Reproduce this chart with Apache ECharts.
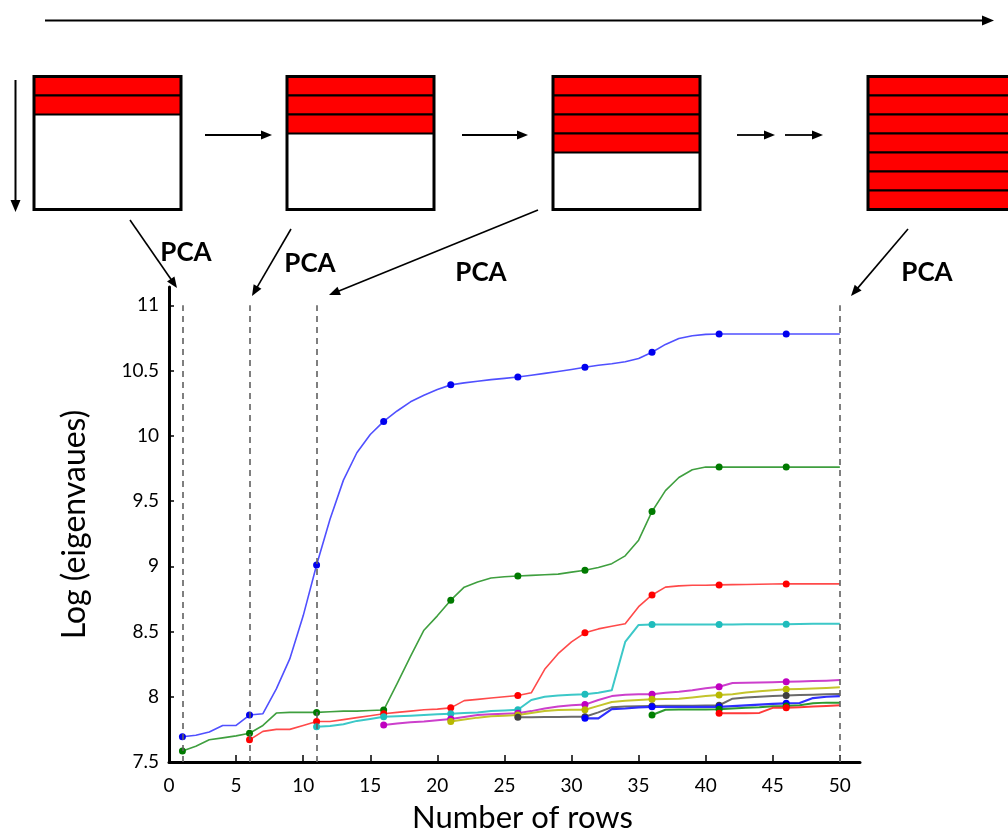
<!DOCTYPE html>
<html>
<head>
<meta charset="utf-8">
<script src="https://cdn.jsdelivr.net/npm/echarts@6/dist/echarts.min.js"></script>
<style>html,body{margin:0;padding:0;background:#fff}#c{width:1008px;height:833px}</style>
</head>
<body>
<div id="c"></div>
<script>
// ---------- data ----------
const xTicks = [0, 5, 10, 15, 20, 25, 30, 35, 40, 45, 50];
const yTicks = [7.5, 8, 8.5, 9, 9.5, 10, 10.5, 11];
const markerRows = [1, 6, 11, 16, 21, 26, 31, 36, 41, 46];
const pcaRows = [1, 6, 11, 50];
const stripeCounts = [2, 3, 4, 7];

const blueStart = 1;
const blueVals = [7.694, 7.705, 7.73, 7.78, 7.78, 7.86, 7.87, 8.06, 8.29, 8.62,
  9.01, 9.36, 9.66, 9.87, 10.01, 10.11, 10.19, 10.26, 10.31, 10.355,
  10.39, 10.405, 10.418, 10.43, 10.44, 10.45, 10.464, 10.478, 10.493, 10.508,
  10.525, 10.54, 10.552, 10.567, 10.592, 10.64, 10.7, 10.745, 10.767, 10.777,
  10.78, 10.78, 10.78, 10.78, 10.78, 10.78, 10.78, 10.78, 10.78, 10.78];
const greenStart = 1;
const greenVals = [7.585, 7.62, 7.67, 7.685, 7.70, 7.72, 7.78, 7.875, 7.88, 7.88,
  7.88, 7.885, 7.89, 7.89, 7.895, 7.898, 8.1, 8.31, 8.51, 8.62,
  8.74, 8.84, 8.88, 8.91, 8.92, 8.925, 8.93, 8.935, 8.94, 8.955,
  8.97, 8.99, 9.02, 9.08, 9.2, 9.42, 9.58, 9.68, 9.74, 9.76,
  9.76, 9.76, 9.76, 9.76, 9.76, 9.76, 9.76, 9.76, 9.76, 9.76];
const redStart = 6;
const redVals = [7.67, 7.735, 7.75, 7.75, 7.78,
  7.81, 7.81, 7.825, 7.84, 7.855, 7.87, 7.88, 7.89, 7.9, 7.905,
  7.915, 7.97, 7.98, 7.99, 8.0, 8.01, 8.03, 8.21, 8.33, 8.42,
  8.49, 8.52, 8.54, 8.56, 8.69, 8.78, 8.84, 8.85, 8.855, 8.855,
  8.857, 8.859, 8.86, 8.862, 8.864, 8.865, 8.865, 8.865, 8.865, 8.865];
const cyanStart = 11;
const cyanVals = [7.77, 7.775, 7.79, 7.815, 7.83, 7.847, 7.85, 7.855, 7.86, 7.865,
  7.87, 7.875, 7.88, 7.89, 7.895, 7.90, 7.975, 8.0, 8.01, 8.015,
  8.02, 8.03, 8.05, 8.42, 8.55, 8.554, 8.554, 8.554, 8.554, 8.554,
  8.554, 8.554, 8.555, 8.556, 8.556, 8.556, 8.558, 8.56, 8.56, 8.56];
const magentaStart = 16;
const magentaVals = [7.783, 7.795, 7.805, 7.81, 7.82,
  7.83, 7.845, 7.86, 7.865, 7.87, 7.873, 7.89, 7.91, 7.925, 7.935,
  7.94, 7.975, 8.005, 8.015, 8.02, 8.02, 8.03, 8.038, 8.05, 8.065,
  8.076, 8.105, 8.108, 8.11, 8.112, 8.115, 8.117, 8.12, 8.123, 8.128];
const yellowStart = 21;
const yellowVals = [7.81, 7.825, 7.84, 7.85, 7.855, 7.86, 7.875, 7.89, 7.898, 7.9,
  7.90, 7.93, 7.96, 7.97, 7.975, 7.98, 7.983, 7.985, 7.995, 8.005,
  8.013, 8.02, 8.032, 8.042, 8.05, 8.057, 8.06, 8.064, 8.068, 8.072];
const grayStart = 26;
const grayVals = [7.842, 7.843, 7.844, 7.845, 7.846,
  7.847, 7.88, 7.92, 7.925, 7.928, 7.93, 7.932, 7.932, 7.932, 7.933,
  7.935, 7.985, 7.995, 8.0, 8.005, 8.01, 8.013, 8.016, 8.02, 8.022];
const navyStart = 31;
const navyVals = [7.835, 7.835, 7.905, 7.91, 7.918, 7.923, 7.923, 7.923, 7.923, 7.923,
  7.923, 7.928, 7.934, 7.94, 7.945, 7.95, 7.952, 7.99, 8.0, 8.005];
const green2Start = 36;
const green2Vals = [7.86, 7.90, 7.902, 7.903, 7.903,
  7.905, 7.91, 7.915, 7.92, 7.928, 7.93, 7.935, 7.95, 7.955, 7.955];
const red2Start = 41;
const red2Vals = [7.873, 7.873, 7.874, 7.876, 7.915, 7.915, 7.92, 7.925, 7.93, 7.935];

// ---------- build ----------
function pts(start, vals) { return vals.map((v, i) => [start + i, v]); }
const seriesDefs = [
  { d: pts(blueStart, blueVals), line: '#5050ff', mk: '#0000ee', w: 1.6 },
  { d: pts(greenStart, greenVals), line: '#3f9f3f', mk: '#007a00', w: 1.6 },
  { d: pts(redStart, redVals), line: '#ff4a4a', mk: '#ff0000', w: 1.6 },
  { d: pts(cyanStart, cyanVals), line: '#3cc8c8', mk: '#1fbcbc', w: 2 },
  { d: pts(magentaStart, magentaVals), line: '#cc3fcc', mk: '#c000c0', w: 2 },
  { d: pts(yellowStart, yellowVals), line: '#c4c42c', mk: '#b8b800', w: 2 },
  { d: pts(grayStart, grayVals), line: '#6a6a6a', mk: '#404040', w: 2 },
  { d: pts(navyStart, navyVals), line: '#2f2fff', mk: '#0000ff', w: 2.2 },
  { d: pts(green2Start, green2Vals), line: '#2f9a2f', mk: '#008000', w: 2 },
  { d: pts(red2Start, red2Vals), line: '#ff3a3a', mk: '#ff0000', w: 2 }
];

const series = seriesDefs.map(s => ({
  type: 'line',
  data: s.d,
  smooth: false,
  showSymbol: true,
  showAllSymbol: true,
  symbol: 'circle',
  symbolSize: v => markerRows.includes(v[0]) ? 7 : 0,
  itemStyle: { color: s.mk, borderWidth: 0 },
  lineStyle: { color: s.line, width: s.w, join: 'round' },
  z: 3,
  silent: true
}));
series.push({
  type: 'line', data: [], silent: true,
  markLine: {
    silent: true, symbol: ['none', 'none'], label: { show: false }, animation: false,
    lineStyle: { color: '#606060', type: [6, 5], width: 1.6 },
    data: pcaRows.map(x => [{ coord: [x, 7.5] }, { coord: [x, 11] }])
  }
});

// ---------- top diagram ----------
const els = [];
function arrow(x1, y1, x2, y2, lw, hl, hw) {
  const dx = x2 - x1, dy = y2 - y1, L = Math.hypot(dx, dy), ux = dx / L, uy = dy / L;
  const bx = x2 - ux * hl, by = y2 - uy * hl;
  els.push({ type: 'line', shape: { x1, y1, x2: bx + ux, y2: by + uy }, style: { stroke: '#000', lineWidth: lw } });
  els.push({ type: 'polygon', shape: { points: [[x2, y2], [bx - uy * hw / 2, by + ux * hw / 2], [bx + uy * hw / 2, by - ux * hw / 2]] }, style: { fill: '#000' } });
}
const boxX = [34, 287, 553, 868];
const boxW = [147, 147, 147, 150];
const boxTop = 76.5, boxBot = 209.5, stripeH = 19;
boxX.forEach((bx, i) => {
  els.push({ type: 'rect', shape: { x: bx, y: boxTop, width: boxW[i], height: boxBot - boxTop }, style: { fill: '#fff', stroke: 'none' } });
  for (let k = 0; k < stripeCounts[i]; k++) {
    els.push({ type: 'rect', shape: { x: bx, y: boxTop + k * stripeH, width: boxW[i], height: stripeH }, style: { fill: '#ff0000', stroke: '#000', lineWidth: 2 } });
  }
  els.push({ type: 'rect', shape: { x: bx, y: boxTop, width: boxW[i], height: boxBot - boxTop }, style: { fill: 'none', stroke: '#000', lineWidth: 3 } });
});
arrow(45, 20.5, 994, 20.5, 2.2, 12, 10);
arrow(15.5, 80, 15.5, 212, 2, 12, 10);
arrow(205, 135, 272, 135, 1.8, 11, 9);
arrow(462, 135, 528, 135, 1.8, 11, 9);
arrow(737, 135, 775, 135, 1.8, 11, 9);
arrow(785, 135, 823, 135, 1.8, 11, 9);
arrow(130, 220, 177, 288, 1.6, 11, 9);
arrow(291, 229, 252, 296, 1.6, 11, 9);
arrow(538, 210, 329, 295, 1.6, 11, 9);
arrow(908, 229, 851, 296, 1.6, 11, 9);
const pcaPos = [[186, 253], [310, 264], [481, 273], [927, 273]];
pcaPos.forEach(p => els.push({
  type: 'text', x: p[0], y: p[1],
  style: { text: 'PCA', font: 'bold 26px Lato', fill: '#000', align: 'center', verticalAlign: 'middle' }
}));

// ---------- chart ----------
const chart = echarts.init(document.getElementById('c'), null, { renderer: 'canvas' });
chart.setOption({
  animation: false,
  backgroundColor: '#fff',
  grid: { left: 169, right: 148, top: 287, bottom: 71, containLabel: false, outerBoundsMode: 'none' },
  xAxis: {
    type: 'value', min: 0, max: 51.5, interval: 5,
    name: 'Number of rows', nameLocation: 'middle', nameGap: 40,
    nameTextStyle: { fontFamily: 'Lato', fontSize: 31, color: '#000', padding: [0, 0, 0, 16] },
    axisLine: { show: true, lineStyle: { color: '#000', width: 3 } },
    axisTick: { show: true, inside: true, length: 7, lineStyle: { color: '#000', width: 1.5 }, customValues: xTicks },
    axisLabel: { customValues: xTicks, fontFamily: 'Lato', fontSize: 19, color: '#000', margin: 14 },
    splitLine: { show: false }
  },
  yAxis: {
    type: 'value', min: 7.5, max: 11.14, interval: 0.5,
    name: 'Log (eigenvaues)', nameLocation: 'middle', nameGap: 78,
    nameTextStyle: { fontFamily: 'Lato', fontSize: 32, color: '#000' },
    axisLine: { show: true, lineStyle: { color: '#000', width: 3 } },
    axisTick: { show: true, inside: true, length: 5, lineStyle: { color: '#000', width: 1.5 }, customValues: yTicks },
    axisLabel: { customValues: yTicks, fontFamily: 'Lato', fontSize: 19, color: '#000', margin: 10 },
    splitLine: { show: false }
  },
  graphic: els,
  series: series
});
</script>
</body>
</html>
